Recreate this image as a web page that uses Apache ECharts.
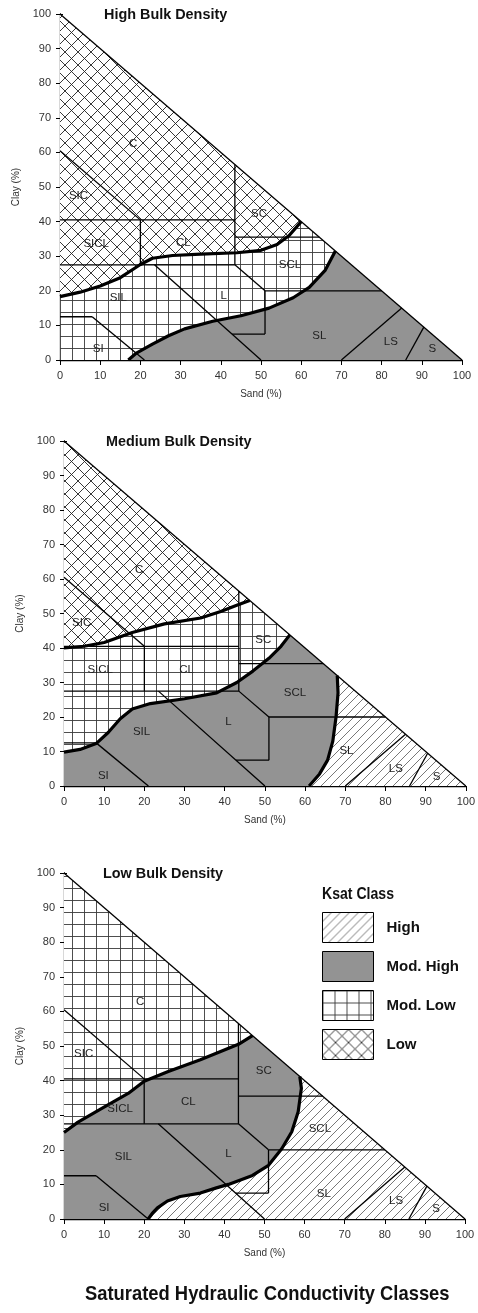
<!DOCTYPE html>
<html><head><meta charset="utf-8">
<script src="https://cdn.jsdelivr.net/npm/echarts@6/dist/echarts.min.js"></script>
<style>html,body{margin:0;padding:0;background:#fff}#c{width:478px;height:1313px}</style>
</head><body><div id="c"></div>
<script>
// ---------------- data ----------------
const FONT = "'Liberation Sans','Arial',sans-serif";
const panelTitles = ['High Bulk Density', 'Medium Bulk Density', 'Low Bulk Density'];
const mainTitle = 'Saturated Hydraulic Conductivity Classes';
const legendTitle = 'Ksat Class';
const tickValues = [0, 10, 20, 30, 40, 50, 60, 70, 80, 90, 100];
const ksatClasses = ['High', 'Mod. High', 'Mod. Low', 'Low'];

// soil texture boundaries [sand1, clay1, sand2, clay2]
const textureLines = [
  [0, 100, 100, 0],
  [0, 60.5, 20, 40.5],
  [0, 40.5, 43.5, 40.5],
  [43.5, 27.5, 43.5, 56.5],
  [20, 27.5, 20, 40.5],
  [0, 27.5, 43.5, 27.5],
  [43.5, 35.5, 64.5, 35.5],
  [43.5, 27.5, 51, 20],
  [51, 20, 80, 20],
  [51, 20, 51, 7.5],
  [42.8, 7.5, 51, 7.5],
  [23.5, 27.5, 50, 0],
  [0, 12.5, 8, 12.5],
  [8, 12.5, 21, 0],
  [70, 0, 85, 15],
  [86, 0, 90.5, 9.5]
];

const textureNames = ['C', 'SIC', 'SICL', 'CL', 'SC', 'SCL', 'SIL', 'L', 'SL', 'LS', 'S', 'SI'];
const labelPos1 = [[18.2,62.5],[4.6,47.5],[9,33.5],[30.7,34],[49.5,42.3],[57.2,27.4],[14.5,18],[40.7,18.5],[64.5,7.1],[82.3,5.3],[92.6,3.1],[9.5,3.3]];
const labelPos2 = [[18.7,62.6],[4.4,47.4],[9,33.6],[30.5,33.6],[49.6,42.3],[57.5,27],[19.3,15.6],[40.9,18.5],[70.3,10.1],[82.6,5],[92.7,2.6],[9.8,3]];
const labelPos3 = [[19,62.7],[4.9,47.7],[14,31.8],[31,33.9],[49.8,42.7],[63.8,26],[14.8,18],[41,18.8],[64.8,7.3],[82.8,5.2],[92.8,2.8],[10,3.1]];

// Ksat class boundary curves [sand, clay]
const p1Upper = [[0,18.3],[5,19.6],[10,21.4],[15,23.8],[20,27.6],[23,29.4],[28,30.2],[35,30.6],[44,31],[50,31.7],[54,33.4],[57,36],[60,40]];
const p1Lower = [[17,0],[19,2],[23,4.6],[27,7],[31,9],[38,11.2],[45,12.8],[52,15],[58,18],[62,21],[66,26],[68.5,31.5]];
const p2Upper = [[0,40],[5,40.5],[10,41.6],[17,44.5],[25,47],[34,48.7],[39,50.6],[43,52.4],[46.2,53.8]];
const p2Middle = [[0,9.8],[4,10.6],[8,12.3],[11,15.5],[14,19.5],[17,22.3],[21.5,23.9],[30,25.3],[38,27],[43,30],[47,33.3],[51,37],[54,40.5],[56.2,43.8]];
const p2Lower = [[68,32],[68.2,27],[67.7,20],[66.9,13],[65.6,7.5],[63.6,3.5],[61,0]];
const p3Upper = [[0,25],[3.5,28],[9,31.7],[16,36.3],[20,39.8],[26,42.6],[34,46],[43.5,50.5],[47,53]];
const p3Lower = [[21,0],[22,1.6],[23.3,3.2],[25.8,5.2],[29,6.5],[34,7.5],[38,9],[41,10],[47,12.6],[51,15.5],[54.3,20.3],[56.8,25.2],[58.4,31],[59.2,37.8],[58.8,41.2]];

const TOP = [0, 100], ORIGIN = [0, 0], RIGHT = [100, 0];
const rev = a => a.slice().reverse();

const panels = [
  { curves: [p1Upper, p1Lower], labels: labelPos1,
    regions: { 'Low': p1Upper.concat([TOP]),
               'Mod. Low': p1Upper.concat(rev(p1Lower), [ORIGIN]),
               'Mod. High': p1Lower.concat([RIGHT]) } },
  { curves: [p2Upper, p2Middle, p2Lower], labels: labelPos2,
    regions: { 'Low': p2Upper.concat([TOP]),
               'Mod. Low': p2Upper.concat(rev(p2Middle)),
               'Mod. High': p2Middle.concat(p2Lower, [ORIGIN]),
               'High': p2Lower.concat([RIGHT]) } },
  { curves: [p3Upper, p3Lower], labels: labelPos3,
    regions: { 'Mod. Low': p3Upper.concat([TOP]),
               'Mod. High': p3Upper.concat(rev(p3Lower), [ORIGIN]),
               'High': p3Lower.concat([RIGHT]) } }
];

// ---------------- layout / style ----------------
const grids = [
  { left: 60, top: 14, width: 402, height: 346 },
  { left: 64, top: 441, width: 402, height: 345 },
  { left: 64, top: 873, width: 401, height: 346 }
];
const titlePos = [[104, 7], [106, 434], [103, 866]];

function makeCanvas(w, h, draw) {
  const c = document.createElement('canvas');
  c.width = w; c.height = h;
  const ctx = c.getContext('2d');
  ctx.fillStyle = '#fff'; ctx.fillRect(0, 0, w, h);
  draw(ctx);
  return c;
}
const patHigh = { image: makeCanvas(9, 9, ctx => {
  ctx.strokeStyle = '#555'; ctx.lineWidth = 0.8;
  ctx.beginPath(); ctx.moveTo(-1, 10); ctx.lineTo(10, -1);
  ctx.moveTo(-2, 2); ctx.lineTo(2, -2); ctx.moveTo(7, 11); ctx.lineTo(11, 7); ctx.stroke();
}), repeat: 'repeat' };
const patModLow = { image: makeCanvas(12, 12, ctx => {
  ctx.strokeStyle = '#3a3a3a'; ctx.lineWidth = 0.9;
  ctx.beginPath(); ctx.moveTo(0.5, 0); ctx.lineTo(0.5, 12); ctx.moveTo(0, 0.5); ctx.lineTo(12, 0.5); ctx.stroke();
}), repeat: 'repeat' };
const patLow = { image: makeCanvas(13, 13, ctx => {
  ctx.strokeStyle = '#222'; ctx.lineWidth = 0.9;
  ctx.beginPath(); ctx.moveTo(0, 0); ctx.lineTo(13, 13); ctx.moveTo(13, 0); ctx.lineTo(0, 13); ctx.stroke();
}), repeat: 'repeat' };
const fills = { 'High': patHigh, 'Mod. High': '#939393', 'Mod. Low': patModLow, 'Low': patLow };

// ---------------- option ----------------
const xAxes = [], yAxes = [], series = [], graphics = [];
grids.forEach((g, i) => {
  const axisLabel = { fontSize: 11, color: '#333', fontFamily: FONT, customValues: tickValues };
  xAxes.push({ gridIndex: i, type: 'value', min: 0, max: 100, interval: 10,
    axisLine: { lineStyle: { color: '#000', width: 1.3 } },
    axisTick: { length: 5, lineStyle: { color: '#000' }, customValues: tickValues },
    axisLabel: Object.assign({ margin: 10 }, axisLabel), splitLine: { show: false },
    name: 'Sand (%)', nameLocation: 'middle', nameGap: 29,
    nameTextStyle: { fontSize: 10, color: '#333', fontFamily: FONT } });
  yAxes.push({ gridIndex: i, type: 'value', min: 0, max: 100, interval: 10, position: 'left',
    axisLine: { lineStyle: { color: '#000', width: 1.3 } },
    axisTick: { length: 4, lineStyle: { color: '#000' }, customValues: tickValues },
    axisLabel: Object.assign({ margin: 9 }, axisLabel), splitLine: { show: false },
    name: 'Clay (%)', nameLocation: 'middle', nameGap: 34,
    nameTextStyle: { fontSize: 10, color: '#333', fontFamily: FONT } });
  graphics.push({ type: 'text', x: titlePos[i][0], y: titlePos[i][1], scaleX: 0.96, z: 10,
    style: { text: panelTitles[i], font: 'bold 15px ' + FONT, fill: '#111' } });

  const p = panels[i];
  ksatClasses.forEach(cls => {
    const poly = p.regions[cls];
    if (!poly) return;
    series.push({ type: 'custom', name: cls, xAxisIndex: i, yAxisIndex: i, z: 1,
      itemStyle: { color: fills[cls] }, silent: true,
      data: poly,
      renderItem: (params, api) => {
        if (params.dataIndex !== 0) return null;
        return { type: 'polygon', shape: { points: poly.map(pt => api.coord(pt)) },
          style: { fill: fills[cls], stroke: null } };
      } });
  });
  series.push({ type: 'custom', xAxisIndex: i, yAxisIndex: i, z: 2, silent: true,
    data: textureLines,
    renderItem: (params, api) => {
      const a = api.coord([api.value(0), api.value(1)]), b = api.coord([api.value(2), api.value(3)]);
      return { type: 'line', shape: { x1: a[0], y1: a[1], x2: b[0], y2: b[1] },
        style: { stroke: '#000', lineWidth: 1.3 } };
    } });
  p.curves.forEach(c => {
    series.push({ type: 'line', xAxisIndex: i, yAxisIndex: i, z: 3, data: c, showSymbol: false,
      silent: true, lineStyle: { color: '#000', width: 3.2 }, animation: false });
  });
  series.push({ type: 'custom', xAxisIndex: i, yAxisIndex: i, z: 4, silent: true,
    data: p.labels.map((pt, k) => [pt[0], pt[1], k]),
    renderItem: (params, api) => {
      const c = api.coord([api.value(0), api.value(1)]);
      return { type: 'text', x: c[0], y: c[1],
        style: { text: textureNames[api.value(2)], fill: '#222', font: '11.5px ' + FONT,
          textAlign: 'center', textVerticalAlign: 'middle' } };
    } });
});
// inner half of the cross-shaped y ticks
grids.forEach((g, i) => {
  yAxes.push({ gridIndex: i, type: 'value', min: 0, max: 100, interval: 10, position: 'left',
    axisLine: { show: false }, axisLabel: { show: false }, splitLine: { show: false },
    axisTick: { inside: true, length: 3, lineStyle: { color: '#000' }, customValues: tickValues } });
});
graphics.push({ type: 'text', x: 322, y: 887, scaleX: 0.88, z: 10,
  style: { text: legendTitle, font: 'bold 16px ' + FONT, fill: '#111' } });
graphics.push({ type: 'text', x: 85, y: 1284, scaleX: 0.875, z: 10,
  style: { text: mainTitle, font: 'bold 21px ' + FONT, fill: '#111' } });

const option = {
  animation: false,
  graphic: graphics,
  grid: grids,
  xAxis: xAxes,
  yAxis: yAxes,
  legend: { data: ksatClasses, orient: 'vertical', left: 322, top: 912, padding: 0,
    itemWidth: 51, itemHeight: 30, itemGap: 8, icon: 'rect', selectedMode: false,
    itemStyle: { borderColor: '#000', borderWidth: 1 },
    textStyle: { fontSize: 15, fontWeight: 'bold', color: '#111', fontFamily: FONT, padding: [0, 0, 0, 8] } },
  series: series
};
const chart = echarts.init(document.getElementById('c'), null, { renderer: 'canvas' });
chart.setOption(option);
</script></body></html>
